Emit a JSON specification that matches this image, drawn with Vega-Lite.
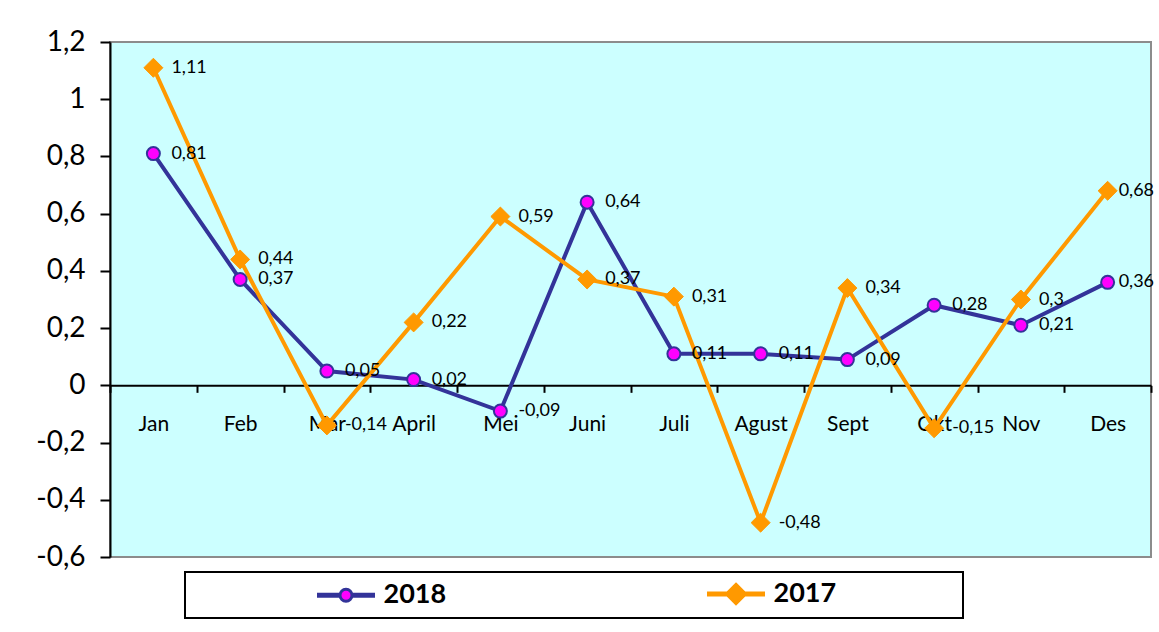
{
  "$schema": "https://vega.github.io/schema/vega-lite/v6.json",
  "width": 1041,
  "height": 515,
  "autosize": {"type": "none"},
  "padding": {"left": 110, "top": 42, "right": 8, "bottom": 75},
  "background": "white",
  "config": {
    "locale": {"number": {"decimal": ",", "thousands": ".", "grouping": [3], "currency": ["", ""], "minus": "-"}},
    "view": {"fill": "#CCFFFF", "stroke": "#8C8C8C", "strokeWidth": 2},
    "legend": {"strokeWidth": 2},
    "font": "Lato"
  },
  "data": {
    "values": [
      {"month": "Jan", "series": "2018", "value": 0.81},
      {"month": "Feb", "series": "2018", "value": 0.37},
      {"month": "Mar", "series": "2018", "value": 0.05},
      {"month": "April", "series": "2018", "value": 0.02},
      {"month": "Mei", "series": "2018", "value": -0.09},
      {"month": "Juni", "series": "2018", "value": 0.64},
      {"month": "Juli", "series": "2018", "value": 0.11},
      {"month": "Agust", "series": "2018", "value": 0.11},
      {"month": "Sept", "series": "2018", "value": 0.09},
      {"month": "Okt", "series": "2018", "value": 0.28},
      {"month": "Nov", "series": "2018", "value": 0.21},
      {"month": "Des", "series": "2018", "value": 0.36},
      {"month": "Jan", "series": "2017", "value": 1.11},
      {"month": "Feb", "series": "2017", "value": 0.44},
      {"month": "Mar", "series": "2017", "value": -0.14},
      {"month": "April", "series": "2017", "value": 0.22},
      {"month": "Mei", "series": "2017", "value": 0.59},
      {"month": "Juni", "series": "2017", "value": 0.37},
      {"month": "Juli", "series": "2017", "value": 0.31},
      {"month": "Agust", "series": "2017", "value": -0.48},
      {"month": "Sept", "series": "2017", "value": 0.34},
      {"month": "Okt", "series": "2017", "value": -0.15},
      {"month": "Nov", "series": "2017", "value": 0.3},
      {"month": "Des", "series": "2017", "value": 0.68}
    ]
  },
  "encoding": {
    "x": {
      "field": "month", "type": "ordinal", "sort": null, "bandPosition": 0.5,
      "scale": {"type": "band", "paddingInner": 0, "paddingOuter": 0},
      "axis": {
        "title": null, "orient": "bottom", "offset": -171.67, "tickBand": "extent",
        "grid": false, "domainColor": "black", "domainWidth": 2, "tickColor": "black", "tickWidth": 2, "tickSize": 7,
        "labelFont": "Lato", "labelFontSize": 21, "labelColor": "black", "labelPadding": 21, "labelAngle": 0
      }
    },
    "y": {
      "field": "value", "type": "quantitative",
      "scale": {"domain": [-0.6, 1.2], "nice": false, "zero": false},
      "axis": {
        "title": null, "values": [-0.6, -0.4, -0.2, 0, 0.2, 0.4, 0.6, 0.8, 1, 1.2], "format": "~g",
        "grid": false, "domainColor": "black", "domainWidth": 2, "tickColor": "black", "tickWidth": 2, "tickSize": 10,
        "labelFont": "Lato", "labelFontSize": 28, "labelColor": "black", "labelPadding": 15
      }
    }
  },
  "layer": [
    {
      "transform": [{"filter": "datum.series === '2018'"}],
      "mark": {"type": "line", "strokeWidth": 4, "color": "#333399"}
    },
    {
      "transform": [{"filter": "datum.series === '2017'"}],
      "mark": {"type": "line", "strokeWidth": 4, "color": "#FF9900"}
    },
    {
      "transform": [{"filter": "datum.series === '2018'"}],
      "mark": {"type": "point", "shape": "circle", "filled": true, "opacity": 1, "fill": "#FF00FF", "stroke": "#333399", "strokeWidth": 2, "size": 169}
    },
    {
      "transform": [{"filter": "datum.series === '2017'"}],
      "mark": {"type": "point", "shape": "diamond", "filled": true, "opacity": 1, "fill": "#FF9900", "stroke": "#FF9900", "strokeWidth": 1, "size": 360}
    },
    {
      "transform": [{"filter": "datum.month !== 'Des'"}],
      "mark": {"type": "text", "align": "left", "baseline": "middle", "dx": 18, "font": "Lato", "fontSize": 18, "color": "black"},
      "encoding": {
        "text": {"field": "value", "type": "quantitative", "format": "~g"}
      }
    },
    {
      "transform": [{"filter": "datum.month === 'Des'"}],
      "mark": {"type": "text", "align": "left", "baseline": "middle", "dx": 11, "font": "Lato", "fontSize": 18, "color": "black"},
      "encoding": {
        "text": {"field": "value", "type": "quantitative", "format": "~g"}
      }
    },
    {
      "transform": [{"filter": "false"}],
      "mark": {"type": "point", "filled": true, "opacity": 1},
      "encoding": {
        "shape": {
          "field": "series", "type": "nominal",
          "scale": {"domain": ["2018", "2017"], "range": [
            "M-2.417,-0.083H-0.5M-2.417,0.083H-0.5M0.5,-0.083H2.417M0.5,0.083H2.417M0.5,0A0.5,0.5 0 1,1 -0.5,0A0.5,0.5 0 1,1 0.5,0Z",
            "M-2.417,-0.083H2.417M-2.417,0.083H2.417M0,-0.8L0.8,0L0,0.8L-0.8,0Z"
          ]},
          "legend": {
            "orient": "none", "legendX": 75, "legendY": 530, "direction": "horizontal",
            "title": "\u00a0", "titleOrient": "left", "titleFontSize": 1, "titlePadding": 124,
            "padding": 8, "fillColor": "white", "strokeColor": "black",
            "symbolSize": 576, "symbolStrokeWidth": 3, "symbolOffset": 15.5, "labelOffset": 24,
            "columnPadding": 253, "symbolOpacity": 1, "labelLimit": 400,
            "labelFont": "Lato", "labelFontSize": 27, "labelFontWeight": "bold", "labelColor": "black",
            "labelExpr": "datum.label === '2017' ? datum.label + '\u00a0\u00a0\u00a0\u00a0\u00a0\u00a0\u00a0\u00a0\u00a0\u00a0\u00a0\u00a0\u00a0\u00a0\u00a0\u00a0\u00a0\u00a0\u200b' : datum.label"
          }
        },
        "fill": {"field": "series", "type": "nominal", "scale": {"domain": ["2018", "2017"], "range": ["#FF00FF", "#FF9900"]}},
        "stroke": {"field": "series", "type": "nominal", "scale": {"domain": ["2018", "2017"], "range": ["#333399", "#FF9900"]}},
        "size": {"field": "series", "type": "ordinal", "scale": {"domain": ["2018", "2017"], "range": [576, 576]}},
        "strokeWidth": {"field": "series", "type": "ordinal", "scale": {"domain": ["2018", "2017"], "range": [3, 3]}}
      }
    }
  ]
}
